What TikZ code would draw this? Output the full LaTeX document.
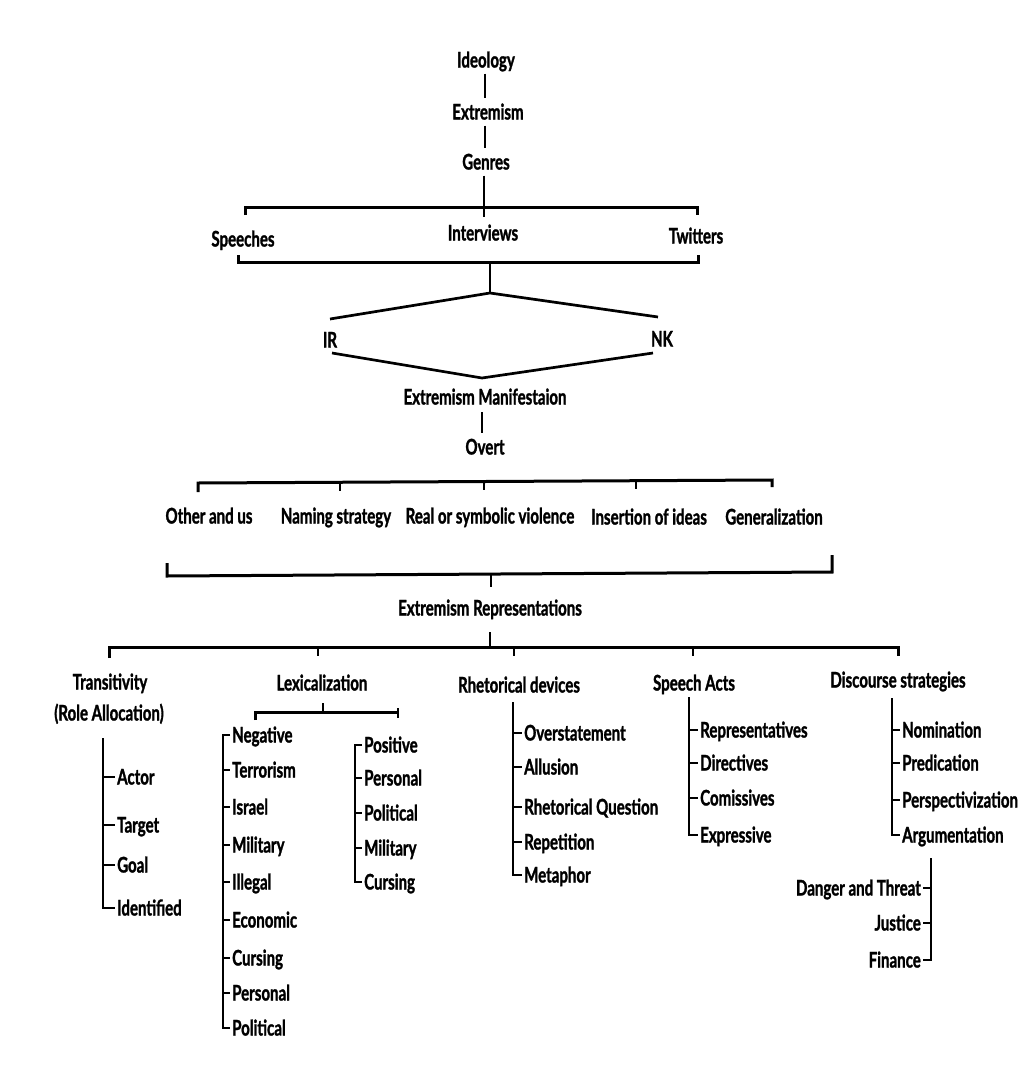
\documentclass[tikz,border=0pt]{standalone}
\usepackage{fontspec}
\newfontfamily\lab{Lato}[FakeStretch=0.70,FakeBold=1.3]
\begin{document}
\begin{tikzpicture}[x=1pt,y=-1pt,
  lbl/.style={font=\lab\bfseries\fontsize{21.5}{24}\selectfont, inner xsep=2pt, inner ysep=6pt, text height=15pt, text depth=0pt},
  li/.style={lbl, anchor=west},
  lr/.style={lbl, anchor=east},
  ln/.style={line width=2.7pt},
  br/.style={line width=3pt}]
\useasboundingbox (0,0) rectangle (1022,1065);

% --- top chain
\node[lbl] (ideo) at (486,60) {Ideology};
\node[lbl] (ext) at (488,112) {Extremism};
\node[lbl] (gen) at (486,162) {Genres};
\draw[ln] (ideo.south -| 485,0) -- (ext.north -| 485,0);
\draw[ln] (ext.south -| 485,0) -- (gen.north -| 485,0);
\coordinate (gtick) at (484,217);
\draw[ln] (gen.south -| gtick) -- (gtick);

% --- genres
\node[lbl] (spe) at (243,239) {Speeches};
\node[lbl] (int) at (483,233) {Interviews};
\node[lbl] (twi) at (696,236) {Twitters};
\coordinate (gbl) at (245,207); \coordinate (gbr) at (697,207);
\draw[br] ([yshift=-8pt]gbl) -- (gbl) -- (gbr) -- ([yshift=-8pt]gbr);
\coordinate (hbl) at (238,262); \coordinate (hbr) at (698,262);
\draw[br] ([yshift=7pt]hbl) -- (hbl) -- (hbr) -- ([yshift=7pt]hbr);
\coordinate (hmid) at (490,262);
\coordinate (apex) at (490,293);
\draw[ln] (hmid) -- (apex);

% --- IR / NK
\node[lbl] (ir) at (330,340) {IR};
\node[lbl] (nk) at (662,339) {NK};
\coordinate (irT) at (330,319); \coordinate (irB) at (332,353);
\coordinate (nkT) at (658,317); \coordinate (nkB) at (653,353);
\coordinate (vpt) at (482,378);
\draw[ln] (irT) -- (apex) -- (nkT);
\draw[ln] (irB) -- (vpt) -- (nkB);

\node[lbl] (man) at (485,397) {Extremism Manifestaion};
\node[lbl] (ove) at (485,447) {Overt};
\draw[ln] (482,412) -- (482,433);

% --- five manifestations
\node[lbl] (oth) at (209,516) {Other and us};
\node[lbl] (nam) at (336,516) {Naming strategy};
\node[lbl] (rea) at (490,516) {Real or symbolic violence};
\node[lbl] (ins) at (649,517) {Insertion of ideas};
\node[lbl] (gnr) at (774,517) {Generalization};
\coordinate (fbl) at (198,483); \coordinate (fbr) at (772,480);
\draw[br] ([yshift=-9pt]fbl) -- (fbl) -- (fbr) -- ([yshift=-7pt]fbr);
\draw[ln] (340,482.3) -- (340,491);
\draw[ln] (484,481.5) -- (484,490);
\draw[ln] (636,480.7) -- (636,489);

\coordinate (lbl1) at (167,576); \coordinate (lbr1) at (832,572);
\draw[br] ([yshift=13pt]lbl1) -- (lbl1) -- (lbr1) -- ([yshift=17pt]lbr1);
\draw[ln] (491,574) -- (491,587);

\node[lbl] (rep) at (490,608) {Extremism Representations};
\draw[ln] (490,632) -- (490,647);
\coordinate (rbl) at (109,647); \coordinate (rbr) at (898,647);
\draw[br] ([yshift=-11pt]rbl) -- (rbl) -- (rbr) -- ([yshift=-9pt]rbr);
\draw[ln] (318,647) -- (318,656);
\draw[ln] (514,647) -- (514,656);
\draw[ln] (693,647) -- (693,656);

% --- headings
\node[lbl] (tra) at (110,682) {Transitivity};
\node[lbl] (tra2) at (109,713) {(Role Allocation)};
\node[lbl] (lex) at (322,683) {Lexicalization};
\node[lbl] (rhe) at (519,685) {Rhetorical devices};
\node[lbl] (spa) at (694,683) {Speech Acts};
\node[lbl] (dis) at (898,680) {Discourse strategies};

% --- Transitivity list
\coordinate (trv) at (103,738);
\node[li] (act) at (115,777) {Actor};
\node[li] (tar) at (115,825) {Target};
\node[li] (goa) at (115,865) {Goal};
\node[li] (ide) at (115,908) {Identified};
\draw[ln] (trv) -- (ide.west -| trv) -- (ide.west);
\foreach \n in {act,tar,goa} \draw[ln] (\n.west -| trv) -- (\n.west);

% --- Lexicalization sub-bracket
\coordinate (lxl) at (255,712); \coordinate (lxr) at (398,712);
\draw[br] ([yshift=-8pt]lxl) -- (lxl) -- (lxr);
\draw[ln] ([yshift=4pt]lxr) -- ([yshift=-6pt]lxr);
\draw[ln] (323,703) -- (323,712);

% negative list
\coordinate (nx) at (223,0);
\node[li] (neg) at (230,735) {Negative};
\node[li] (ter) at (230,770) {Terrorism};
\node[li] (isr) at (230,807) {Israel};
\node[li] (mil) at (230,845) {Military};
\node[li] (ill) at (230,882) {Illegal};
\node[li] (eco) at (230,920) {Economic};
\node[li] (cur) at (230,958) {Cursing};
\node[li] (per) at (230,993) {Personal};
\node[li] (pol) at (230,1028) {Political};
\draw[ln] (neg.west) -- (neg.west -| nx) -- (pol.west -| nx) -- (pol.west);
\foreach \n in {ter,isr,mil,ill,eco,cur,per} \draw[ln] (\n.west -| nx) -- (\n.west);

% positive list
\coordinate (px) at (355,0);
\node[li] (pos) at (362,745) {Positive};
\node[li] (ppe) at (362,778) {Personal};
\node[li] (ppo) at (362,813) {Political};
\node[li] (pmi) at (362,848) {Military};
\node[li] (pcu) at (362,882) {Cursing};
\draw[ln] (pos.west) -- (pos.west -| px) -- (pcu.west -| px) -- (pcu.west);
\foreach \n in {ppe,ppo,pmi} \draw[ln] (\n.west -| px) -- (\n.west);

% --- Rhetorical list
\coordinate (rhv) at (513,702);
\node[li] (ovs) at (522,733) {Overstatement};
\node[li] (all) at (522,767) {Allusion};
\node[li] (rqu) at (522,807) {Rhetorical Question};
\node[li] (rpt) at (522,842) {Repetition};
\node[li] (met) at (522,875) {Metaphor};
\draw[ln] (rhv) -- (met.west -| rhv) -- (met.west);
\foreach \n in {ovs,all,rqu,rpt} \draw[ln] (\n.west -| rhv) -- (\n.west);

% --- Speech acts list
\coordinate (sav) at (689,697);
\node[li] (rps) at (698,730) {Representatives};
\node[li] (dir) at (698,763) {Directives};
\node[li] (com) at (698,798) {Comissives};
\node[li] (exp) at (698,835) {Expressive};
\draw[ln] (sav) -- (exp.west -| sav) -- (exp.west);
\foreach \n in {rps,dir,com} \draw[ln] (\n.west -| sav) -- (\n.west);

% --- Discourse list
\coordinate (dsv) at (892,698);
\node[li] (nom) at (900,730) {Nomination};
\node[li] (pre) at (900,763) {Predication};
\node[li] (psp) at (900,800) {Perspectivization};
\node[li] (arg) at (900,835) {Argumentation};
\draw[ln] (dsv) -- (arg.west -| dsv) -- (arg.west);
\foreach \n in {nom,pre,psp} \draw[ln] (\n.west -| dsv) -- (\n.west);

% --- topoi list
\coordinate (tpv) at (931,858);
\node[lr] (dan) at (923,888) {Danger and Threat};
\node[lr] (jus) at (923,923) {Justice};
\node[lr] (fin) at (923,960) {Finance};
\draw[ln] (tpv) -- (fin.east -| tpv) -- (fin.east);
\foreach \n in {dan,jus} \draw[ln] (\n.east -| tpv) -- (\n.east);
\end{tikzpicture}
\end{document}
